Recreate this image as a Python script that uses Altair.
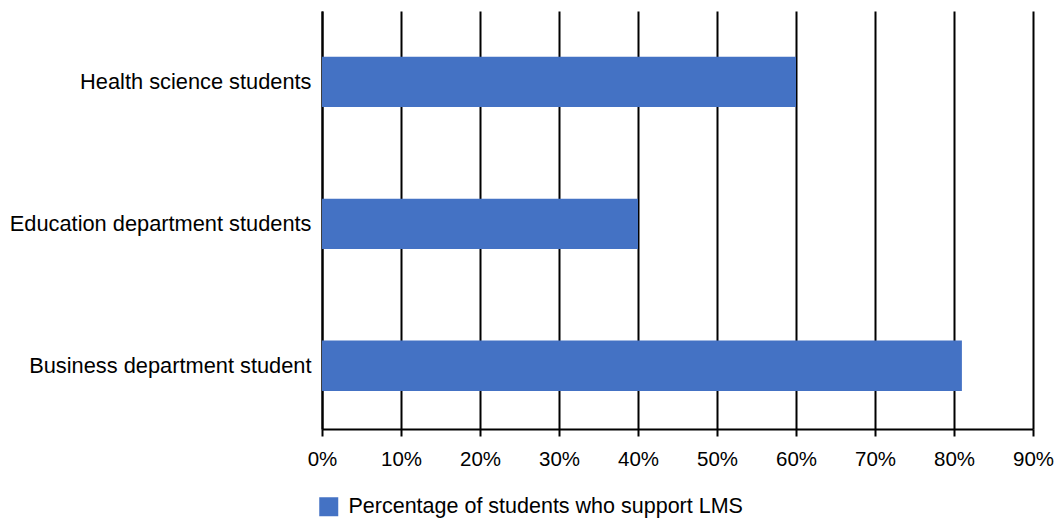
import altair as alt
import pandas as pd

# Student groups (top to bottom) and share of each group supporting LMS
groups = ["Health science students", "Education department students", "Business department student"]
support = [0.60, 0.40, 0.81]
series_name = "Percentage of students who support LMS"
x_ticks = [0.0, 0.1, 0.2, 0.3, 0.4, 0.5, 0.6, 0.7, 0.8, 0.9]

df = pd.DataFrame({"group": groups, "share": support, "series": [series_name] * len(groups)})

FONT = "Liberation Sans"

chart = (
    alt.Chart(df)
    .mark_bar(color="#4472C4")
    .encode(
        y=alt.Y(
            "group:N",
            sort=groups,
            title=None,
            scale=alt.Scale(paddingInner=0.646, paddingOuter=0.295, align=0.545),
            axis=alt.Axis(
                ticks=False,
                domain=True,
                domainColor="#000000",
                domainWidth=2,
                grid=False,
                labelFont=FONT,
                labelFontSize=21.8,
                labelColor="#000000",
                labelPadding=11,
                labelLimit=400,
            ),
        ),
        x=alt.X(
            "share:Q",
            title=None,
            scale=alt.Scale(domain=[0, 0.9], nice=False),
            axis=alt.Axis(
                values=x_ticks,
                format=".0%",
                grid=True,
                gridColor="#000000",
                gridWidth=2,
                gridOpacity=1,
                domain=True,
                domainColor="#000000",
                domainWidth=2,
                ticks=True,
                tickColor="#000000",
                tickWidth=2,
                tickSize=7,
                labelFont=FONT,
                labelFontSize=20.5,
                labelColor="#000000",
                labelPadding=13,
                labelFlush=False,
                labelOverlap=False,
            ),
        ),
        color=alt.Color(
            "series:N",
            scale=alt.Scale(range=["#4472C4"]),
            legend=alt.Legend(
                title=None,
                orient="none",
                legendX=-4,
                legendY=485,
                symbolType="square",
                symbolSize=361,
                symbolStrokeWidth=0,
                symbolOpacity=1,
                labelFont=FONT,
                labelFontSize=21.5,
                labelColor="#000000",
                labelOffset=9,
                labelLimit=600,
                padding=0,
            ),
        ),
    )
    .properties(
        width=711,
        height=418,
        background="#ffffff",
        autosize=alt.AutoSizeParams(type="none"),
        padding={"left": 322, "top": 11, "right": 24, "bottom": 89},
    )
    .configure_view(stroke="transparent", strokeWidth=0)
)

chart.save("out.html", embed_options={"renderer": "svg", "actions": False})
